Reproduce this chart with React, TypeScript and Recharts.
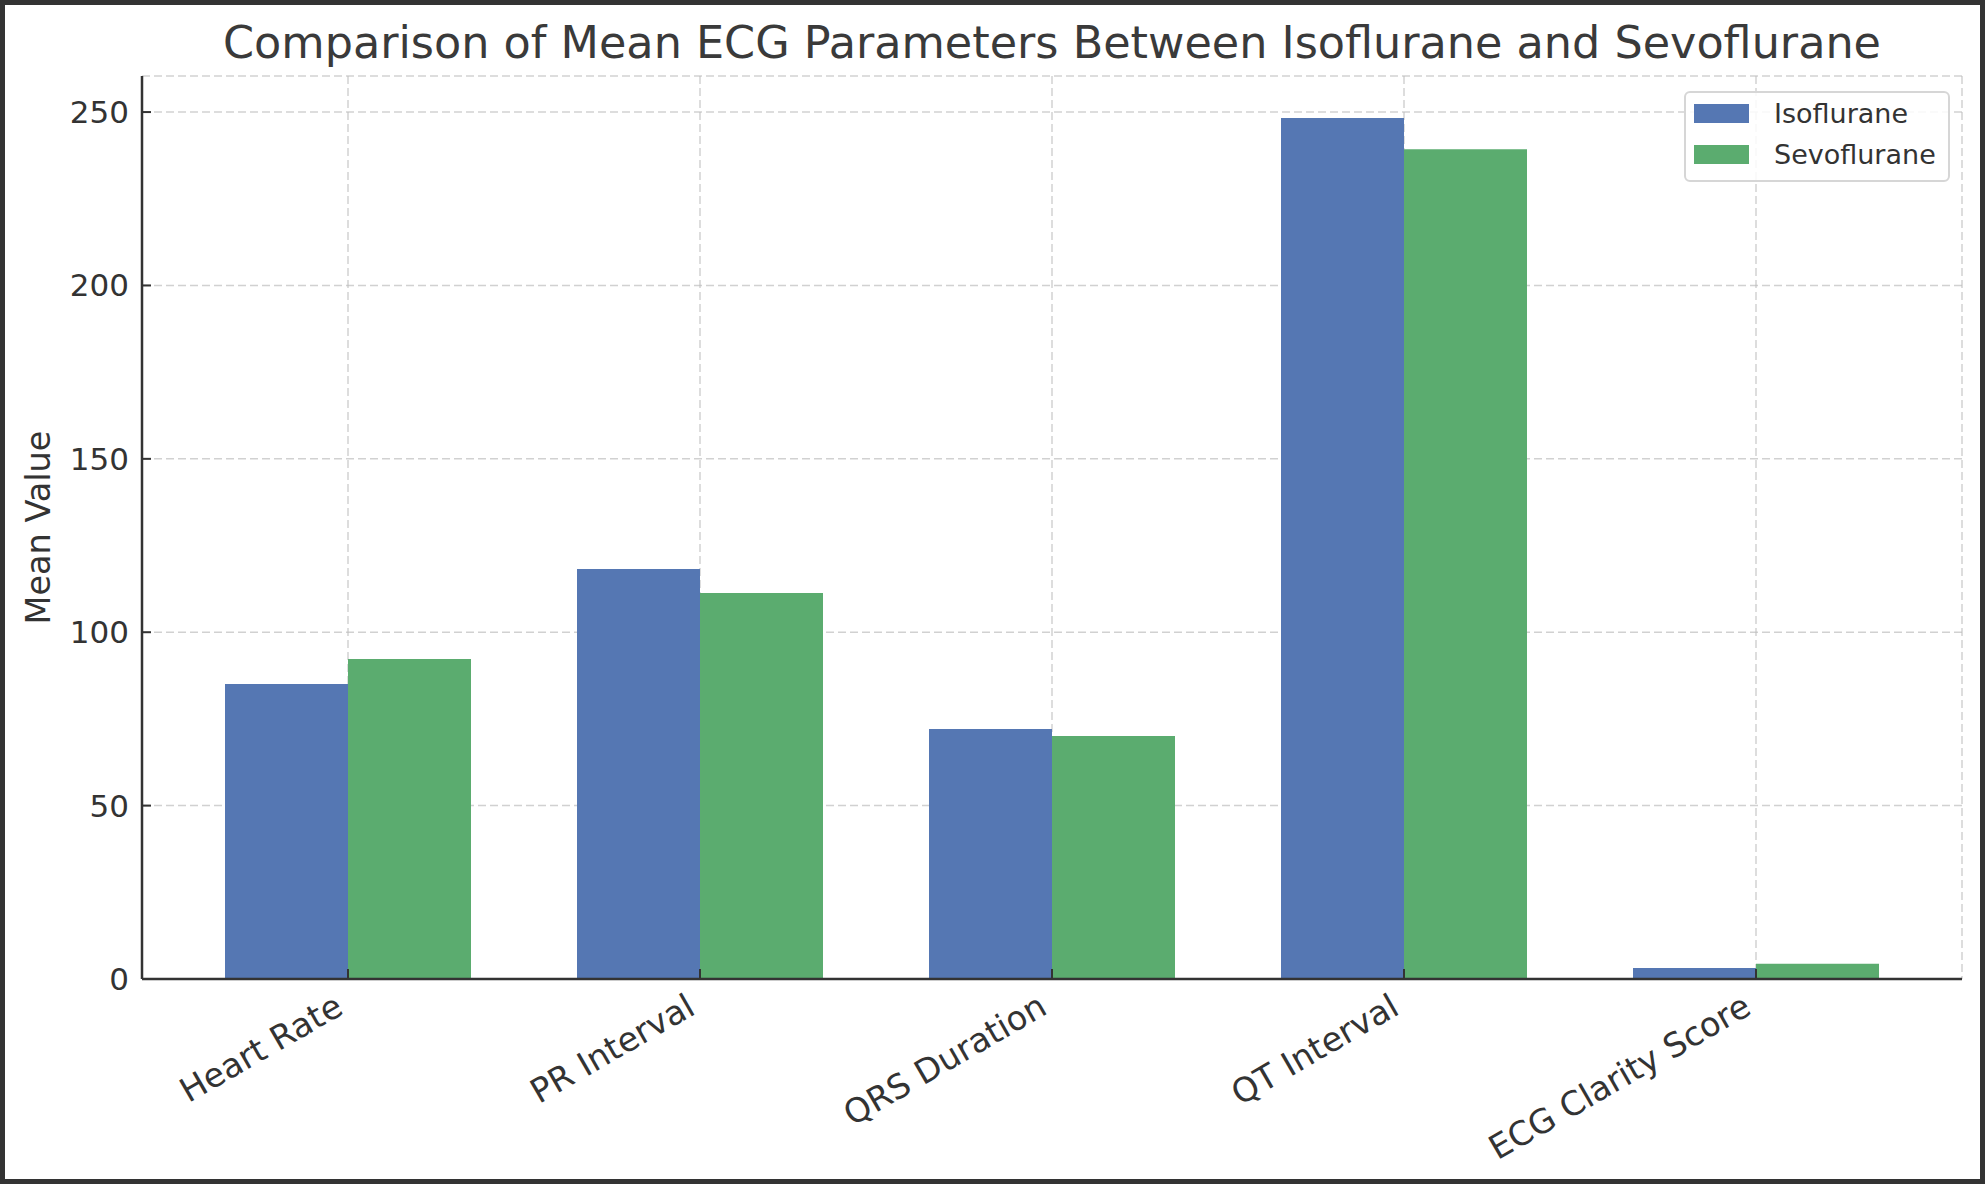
import React from 'react';
import { BarChart, Bar, XAxis, YAxis, CartesianGrid, Label } from 'recharts';

const categories = ['Heart Rate', 'PR Interval', 'QRS Duration', 'QT Interval', 'ECG Clarity Score'];
const isofluraneMeans = [85.1, 118.2, 72.1, 248.3, 3.2];
const sevofluraneMeans = [92.3, 111.3, 70.1, 239.3, 4.4];
const yTicks = [0, 50, 100, 150, 200, 250];

const series = [
  { key: 'isoflurane', name: 'Isoflurane', color: '#5577B3' },
  { key: 'sevoflurane', name: 'Sevoflurane', color: '#5BAC6F' },
];

const data = categories.map((name, i) => ({
  name,
  isoflurane: isofluraneMeans[i],
  sevoflurane: sevofluraneMeans[i],
}));

const TEXT = '#333333';

// matplotlib-style ticks: mark points inward, label rotated 30deg
const XTick = (props: any) => {
  const { x, y, payload } = props;
  const tx = x - 3;
  const ty = y + 34;
  return (
    <g>
      <line x1={x} y1={y} x2={x} y2={y - 10} stroke={TEXT} strokeWidth={2} />
      <text x={tx} y={ty} textAnchor="end" fontSize={33.5} fill={TEXT} transform={`rotate(-30, ${tx}, ${ty})`}>
        {payload.value}
      </text>
    </g>
  );
};

const YTick = (props: any) => {
  const { x, y, payload } = props;
  return (
    <g>
      <line x1={x} y1={y} x2={x + 9} y2={y} stroke={TEXT} strokeWidth={2} />
      <text x={x - 13} y={y} textAnchor="end" dominantBaseline="central" fontSize={31} fill={TEXT}>
        {payload.value}
      </text>
    </g>
  );
};

const YLabel = ({ viewBox }: any) => {
  const cx = viewBox.x + 50;
  const cy = viewBox.y + viewBox.height / 2;
  return (
    <text x={cx} y={cy} textAnchor="middle" fontSize={33.5} fill={TEXT} transform={`rotate(-90, ${cx}, ${cy})`}>
      Mean Value
    </text>
  );
};

export default function App() {
  return (
    <div
      style={{
        position: 'absolute',
        left: 0,
        top: 0,
        width: 1985,
        height: 1184,
        background: '#fff',
        fontFamily: '"DejaVu Sans", sans-serif',
        color: TEXT,
      }}
    >
      <div
        style={{
          position: 'absolute',
          left: 1052,
          top: 21,
          transform: 'translateX(-50%)',
          whiteSpace: 'nowrap',
          fontSize: 44.5,
          lineHeight: 1,
          color: '#3a3a3a',
        }}
      >
        Comparison of Mean ECG Parameters Between Isoflurane and Sevoflurane
      </div>

      <BarChart
        width={1985}
        height={1184}
        data={data}
        margin={{ top: 76, right: 23, bottom: 55, left: 0 }}
        barGap={0}
        barSize={123}
      >
        {series.map((s) => (
          <Bar key={s.key} dataKey={s.key} name={s.name} fill={s.color} isAnimationActive={false} />
        ))}
        <CartesianGrid stroke="rgba(190,190,190,0.7)" strokeWidth={1.5} strokeDasharray="8 4" />
        <XAxis
          dataKey="name"
          interval={0}
          height={150}
          padding={{ left: 30, right: 30 }}
          tickSize={0}
          tickMargin={0}
          tickLine={false}
          tick={<XTick />}
          axisLine={{ stroke: TEXT, strokeWidth: 2.5 }}
        />
        <YAxis
          width={142}
          domain={[0, 260.4]}
          ticks={yTicks}
          tickSize={0}
          tickMargin={0}
          tickLine={false}
          tick={<YTick />}
          axisLine={{ stroke: TEXT, strokeWidth: 2.5 }}
        >
          <Label content={<YLabel />} />
        </YAxis>
      </BarChart>

      <div
        style={{
          position: 'absolute',
          left: 1684,
          top: 91,
          width: 266,
          height: 91,
          boxSizing: 'border-box',
          border: '2px solid #d6d6d6',
          borderRadius: 6,
          background: 'rgba(255,255,255,0.85)',
          fontSize: 27,
        }}
      >
        {series.map((s, i) => (
          <div
            key={s.key}
            style={{ position: 'absolute', left: 8, top: 10 + i * 41, height: 21, display: 'flex', alignItems: 'center' }}
          >
            <div style={{ width: 55, height: 19, background: s.color }} />
            <span style={{ marginLeft: 25, lineHeight: 1, color: TEXT }}>{s.name}</span>
          </div>
        ))}
      </div>

      <div
        style={{
          position: 'absolute',
          inset: 0,
          border: '5px solid #333',
          pointerEvents: 'none',
        }}
      />
    </div>
  );
}
